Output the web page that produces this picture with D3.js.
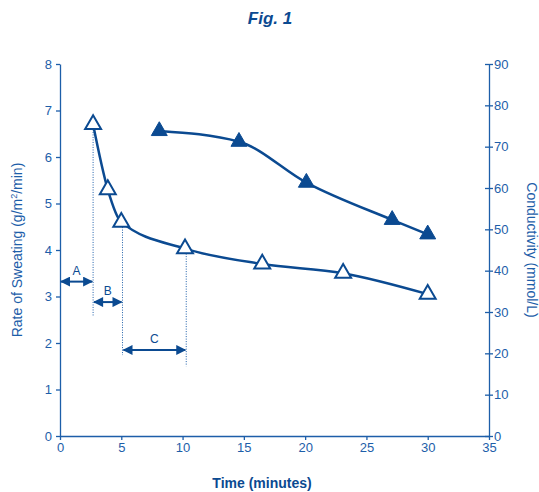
<!DOCTYPE html>
<html>
<head>
<meta charset="utf-8">
<script src="https://cdn.jsdelivr.net/npm/d3@7"></script>
<style>
body { margin: 0; background: #fff; }
text { font-family: "Liberation Sans", Arial, sans-serif; }
</style>
</head>
<body>
<svg id="chart" width="539" height="492"></svg>
<script>
// sweat rate (open triangles, left axis)
var sweatTime = [2.7, 3.9, 5.0, 10.2, 16.5, 23.1, 30.0];
var sweatRate = [6.7, 5.3, 4.6, 4.03, 3.7, 3.5, 3.05];
// conductivity (filled triangles, right axis)
var condTime = [8.1, 14.6, 20.1, 27.1, 30.0];
var condValue = [73.8, 71.2, 61.3, 52.3, 48.8];
var xTicks = [0, 5, 10, 15, 20, 25, 30, 35];
var leftTicks = [0, 1, 2, 3, 4, 5, 6, 7, 8];
var rightTicks = [0, 10, 20, 30, 40, 50, 60, 70, 80, 90];
// phase annotations: label, start, end, arrow level (left axis units)
var phases = [
    { label: 'A', from: 0, to: 2.7, level: 3.32 },
    { label: 'B', from: 2.7, to: 5.1, level: 2.88 },
    { label: 'C', from: 5.1, to: 10.3, level: 1.85 }
];
// dotted drop lines: x and bottom end
var drops = [
    { x: 2.7, top: 6.7, bottom: 2.57 },
    { x: 5.1, top: 4.6, bottom: 1.74 },
    { x: 10.3, top: 4.03, bottom: 1.5 }
];

var dark = '#0b4a91';
var axisCol = '#1d5ea9';

var svg = d3.select('#chart');
var margin = { top: 64, right: 50, bottom: 56, left: 60 };
var width = 489 - margin.left;
var height = 436 - margin.top;
var g = svg.append('g').attr('transform', 'translate(' + margin.left + ',' + margin.top + ')');

var x = d3.scaleLinear().domain([0, 35]).range([0, width]);
var yL = d3.scaleLinear().domain([0, 8]).range([height, 0]);
var yR = d3.scaleLinear().domain([0, 90]).range([height, 0]);

svg.append('defs').append('marker')
    .attr('id', 'arr')
    .attr('viewBox', '0 0 10 10')
    .attr('refX', 9).attr('refY', 5)
    .attr('markerWidth', 11).attr('markerHeight', 10)
    .attr('markerUnits', 'userSpaceOnUse')
    .attr('orient', 'auto-start-reverse')
    .append('path')
    .attr('d', 'M0,0 L10,5 L0,10 Z')
    .attr('fill', dark);

var styleAxis = function(sel) {
    sel.selectAll('path,line').attr('stroke', axisCol).attr('stroke-width', 1.3);
    sel.selectAll('text').attr('fill', axisCol).attr('font-size', 13);
};

g.append('g')
    .attr('transform', 'translate(0,' + height + ')')
    .call(d3.axisBottom(x).tickValues(xTicks).tickSizeInner(4).tickSizeOuter(0).tickPadding(3))
    .call(styleAxis);

g.append('g')
    .call(d3.axisLeft(yL).tickValues(leftTicks).tickSizeInner(4).tickSizeOuter(0).tickPadding(4))
    .call(styleAxis);

var rAxis = g.append('g')
    .attr('transform', 'translate(' + width + ',0)')
    .call(d3.axisRight(yR).tickValues(rightTicks).tickSizeInner(4).tickSizeOuter(0).tickPadding(1))
    .call(styleAxis);
rAxis.selectAll('.tick line').attr('x1', -4);

// drop lines
g.selectAll('.drop').data(drops).enter().append('line')
    .attr('x1', function(d) { return x(d.x); })
    .attr('x2', function(d) { return x(d.x); })
    .attr('y1', function(d) { return yL(d.top); })
    .attr('y2', function(d) { return yL(d.bottom); })
    .attr('stroke', axisCol)
    .attr('stroke-width', 1)
    .attr('stroke-dasharray', '1,1.5');

// phase arrows
g.selectAll('.phase').data(phases).enter().append('line')
    .attr('x1', function(d) { return x(d.from) + 1; })
    .attr('x2', function(d) { return x(d.to) - 1; })
    .attr('y1', function(d) { return yL(d.level); })
    .attr('y2', function(d) { return yL(d.level); })
    .attr('stroke', dark)
    .attr('stroke-width', 2)
    .attr('marker-start', 'url(#arr)')
    .attr('marker-end', 'url(#arr)');

g.selectAll('.plabel').data(phases).enter().append('text')
    .attr('x', function(d) { return (x(d.from) + x(d.to)) / 2; })
    .attr('y', function(d) { return yL(d.level) - 7; })
    .attr('text-anchor', 'middle')
    .attr('font-size', 12)
    .attr('fill', dark)
    .text(function(d) { return d.label; });

var sweat = sweatTime.map(function(t, i) { return [t, sweatRate[i]]; });
var cond = condTime.map(function(t, i) { return [t, condValue[i]]; });

g.append('path')
    .datum(sweat)
    .attr('fill', 'none')
    .attr('stroke', dark)
    .attr('stroke-width', 2.5)
    .attr('d', d3.line().curve(d3.curveMonotoneX)
        .x(function(d) { return x(d[0]); })
        .y(function(d) { return yL(d[1]); }));

g.append('path')
    .datum(cond)
    .attr('fill', 'none')
    .attr('stroke', dark)
    .attr('stroke-width', 2.5)
    .attr('d', d3.line().curve(d3.curveMonotoneX)
        .x(function(d) { return x(d[0]); })
        .y(function(d) { return yR(d[1]); }));

var tri = d3.symbol().type(d3.symbolTriangle).size(110);

g.selectAll('.open').data(sweat).enter().append('path')
    .attr('d', tri)
    .attr('transform', function(d) { return 'translate(' + x(d[0]) + ',' + yL(d[1]) + ')'; })
    .attr('fill', '#fff')
    .attr('stroke', dark)
    .attr('stroke-width', 2);

g.selectAll('.filled').data(cond).enter().append('path')
    .attr('d', tri)
    .attr('transform', function(d) { return 'translate(' + x(d[0]) + ',' + yR(d[1]) + ')'; })
    .attr('fill', dark)
    .attr('stroke', dark)
    .attr('stroke-width', 1);

svg.append('text')
    .attr('x', 270).attr('y', 24)
    .attr('text-anchor', 'middle')
    .attr('font-size', 17)
    .attr('font-weight', 'bold')
    .attr('font-style', 'italic')
    .attr('fill', dark)
    .text('Fig. 1');

svg.append('text')
    .attr('x', 262).attr('y', 488)
    .attr('text-anchor', 'middle')
    .attr('font-size', 14)
    .attr('font-weight', 'bold')
    .attr('fill', dark)
    .text('Time (minutes)');

var yl = svg.append('text')
    .attr('transform', 'translate(22,250) rotate(-90)')
    .attr('text-anchor', 'middle')
    .attr('font-size', 14)
    .attr('fill', axisCol);
yl.append('tspan').text('Rate of Sweating (g/m');
yl.append('tspan').attr('font-size', 9).attr('dy', -5).text('2');
yl.append('tspan').attr('dy', 5).text('/min)');

svg.append('text')
    .attr('transform', 'translate(527,250) rotate(90)')
    .attr('text-anchor', 'middle')
    .attr('font-size', 14)
    .attr('fill', axisCol)
    .text('Conductivity (mmol/L)');
</script>
</body>
</html>
